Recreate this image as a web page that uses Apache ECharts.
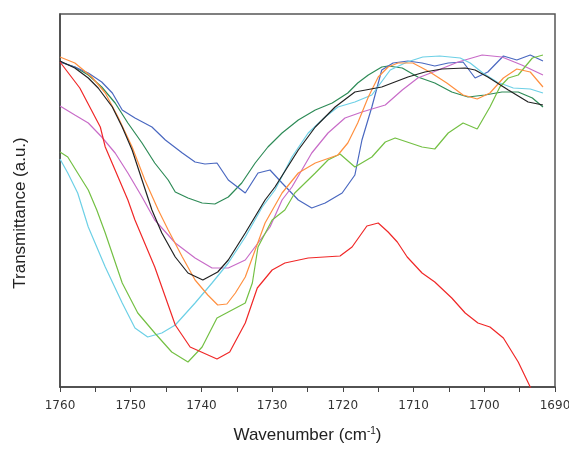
<!DOCTYPE html>
<html>
<head>
<meta charset="utf-8">
<script src="https://cdn.jsdelivr.net/npm/echarts@6/dist/echarts.min.js"></script>
<style>
  html, body { margin: 0; padding: 0; background: #fff; }
  #chart { width: 569px; height: 450px; }
</style>
</head>
<body>
<div id="chart"></div>
<script>
// IR carbonyl region spectra, transmittance in arbitrary units vs wavenumber (cm-1)
const xTicks = [1760, 1750, 1740, 1730, 1720, 1710, 1700, 1690];

const redSpec = [[1760,325],[1757.2,299],[1754.3,260],[1753.6,240],[1750.4,187],[1749.4,167],[1746.6,120],[1743.7,62],[1741.6,40],[1737.8,28],[1736,35],[1733.8,64],[1732.1,99],[1730,117],[1728.2,124],[1724.9,129],[1720.4,131],[1718.7,140],[1716.6,161],[1715,164],[1713.6,155],[1712.3,145],[1710.9,130],[1708.8,114],[1707,105],[1704.6,89],[1702.7,74],[1700.9,64],[1699.2,60],[1697.3,49],[1695.2,25],[1693.5,0],[1692,-25]];

const blackSpec = [[1760,326],[1757.9,319],[1756,309],[1754.6,299],[1752.6,280],[1751.2,260],[1749.8,237],[1748.4,207],[1747,177],[1745.6,154],[1743.7,130],[1741.9,114],[1739.8,107],[1737.7,115],[1736.2,127],[1733.8,154],[1731,187],[1729.6,200],[1726.3,237],[1723.9,260],[1721.1,280],[1718.3,295],[1714.5,300],[1710.8,310],[1708.4,315],[1706,318],[1702.7,319],[1701.3,317],[1699.5,310],[1696.6,297],[1693.8,285],[1691.7,282]];

const orangeSpec = [[1760,330],[1757.9,324],[1755.5,310],[1753.6,294],[1751.8,270],[1749.8,240],[1748,207],[1746.1,177],[1744.7,157],[1742.7,130],[1740.9,107],[1739.1,92],[1737.7,82],[1736.4,83],[1735.2,94],[1733.8,110],[1732.4,137],[1731,164],[1728.6,194],[1726.3,214],[1723.9,224],[1720.7,232],[1719.3,244],[1717.9,264],[1716.4,290],[1715,310],[1713.6,320],[1712.2,324],[1710.1,324],[1707.7,315],[1705.3,304],[1703,292],[1701,288],[1699.2,294],[1697.3,309],[1695.4,318],[1693.5,315],[1691.7,300]];

const lightGreenSpec = [[1760,235],[1758.9,230],[1757.5,214],[1756,197],[1754.8,177],[1753.6,154],[1751.2,104],[1749,74],[1746.6,54],[1744.2,35],[1741.9,25],[1739.9,40],[1737.8,69],[1736.2,75],[1733.8,84],[1732.8,104],[1732,140],[1730,167],[1728.2,177],[1726.8,194],[1723.9,214],[1722.1,227],[1720.4,233],[1718.3,220],[1715.9,230],[1714,245],[1712.6,249],[1708.8,240],[1707,238],[1705.1,254],[1703,264],[1701,258],[1699.2,280],[1697.8,300],[1696.6,309],[1695.2,312],[1693.2,329],[1691.7,332]];

const cyanSpec = [[1760,228],[1758.9,214],[1757.5,194],[1756,160],[1753.6,120],[1751.2,84],[1749.4,59],[1747.6,50],[1745.6,54],[1743.7,62],[1740.9,84],[1738.5,104],[1736.2,124],[1733.8,150],[1731.4,180],[1729.6,197],[1727.2,230],[1724.9,254],[1722.5,270],[1720.7,280],[1718.3,285],[1715.9,292],[1713.3,317],[1710.9,325],[1708.7,330],[1706.3,331],[1703.4,329],[1702,324],[1700.2,314],[1698.2,305],[1695.9,299],[1693.5,298],[1691.7,294]];

const magentaSpec = [[1760,281],[1757.9,272],[1756,264],[1754.1,250],[1752.2,234],[1750.4,214],[1748.4,190],[1746.6,167],[1743.7,144],[1740.9,129],[1738.5,119],[1736.2,119],[1733.8,127],[1732,144],[1730.3,160],[1728.6,187],[1727.2,200],[1724.4,234],[1722.1,254],[1719.7,269],[1717.3,275],[1714,282],[1711.6,297],[1709.4,309],[1706.5,317],[1703.7,325],[1700.3,332],[1697.5,330],[1694.7,322],[1691.7,312]];

const blueSpec = [[1760,325],[1757.9,320],[1756,314],[1754.1,305],[1752.6,294],[1751.2,277],[1749.4,269],[1747,260],[1745.1,247],[1742.7,234],[1740.9,225],[1739.5,223],[1737.8,224],[1736.2,207],[1733.8,194],[1732,214],[1730.3,217],[1728.6,204],[1726.3,187],[1724.4,179],[1722.5,184],[1720.1,194],[1718.3,212],[1717.3,247],[1715.9,280],[1714.5,317],[1712.9,324],[1710.8,326],[1708.8,324],[1707,321],[1705.1,324],[1703,325],[1701.3,309],[1699.5,315],[1697.3,331],[1695.4,327],[1693.5,332],[1691.7,326]];

const darkGreenSpec = [[1760,325],[1757.9,320],[1756,312],[1754.1,300],[1752.2,284],[1750.4,264],[1748.4,244],[1746.6,224],[1744.7,207],[1743.7,195],[1741.9,189],[1739.9,184],[1738.1,183],[1736.2,190],[1734.3,204],[1732.4,224],[1730.6,240],[1728.6,254],[1726.3,267],[1723.9,277],[1721.5,284],[1719.3,294],[1717.9,304],[1716.4,312],[1714.5,320],[1713.6,321],[1711.6,319],[1709.4,310],[1707,304],[1704.6,295],[1702.3,290],[1699.9,292],[1697.5,295],[1695.2,295],[1693.2,289],[1691.7,280]];

const spectra = [
  { name: 'dark green', data: darkGreenSpec, color: '#2e8b57' },
  { name: 'blue', data: blueSpec, color: '#4a68c0' },
  { name: 'magenta', data: magentaSpec, color: '#c86cc8' },
  { name: 'cyan', data: cyanSpec, color: '#6dd0e6' },
  { name: 'light green', data: lightGreenSpec, color: '#74c044' },
  { name: 'orange', data: orangeSpec, color: '#ff9040' },
  { name: 'black', data: blackSpec, color: '#222222' },
  { name: 'red', data: redSpec, color: '#f02828' }
];

const chart = echarts.init(document.getElementById('chart'), null, { renderer: 'canvas' });

chart.setOption({
  animation: false,
  backgroundColor: '#ffffff',
  grid: {
    left: 60, right: 14, top: 14, bottom: 63,
    outerBoundsMode: 'none',
    containLabel: false,
    show: true, borderColor: '#555', borderWidth: 1.5, backgroundColor: 'transparent'
  },
  graphic: [{
    type: 'text',
    x: 20, y: 213,
    rotation: Math.PI / 2,
    style: {
      text: 'Transmittance (a.u.)',
      align: 'center', verticalAlign: 'middle',
      fontSize: 17, fontFamily: 'Liberation Sans', fill: '#222'
    }
  }],
  xAxis: {
    type: 'value',
    min: 1690, max: 1760, interval: 5,
    inverse: true,
    axisLine: { show: true, lineStyle: { color: '#444', width: 1.5 } },
    axisTick: { show: true, inside: false, length: 5, lineStyle: { color: '#444', width: 1 } },
    splitLine: { show: false },
    axisLabel: {
      color: '#333', fontSize: 12, fontFamily: 'DejaVu Sans', margin: 13,
      formatter: v => (xTicks.indexOf(v) >= 0 ? String(v) : '')
    },
    name: 'Wavenumber (cm{sup|-1})',
    nameLocation: 'middle',
    nameGap: 39,
    nameTextStyle: {
      color: '#222', fontSize: 17, fontFamily: 'Liberation Sans',
      rich: { sup: { fontSize: 10, fontFamily: 'Liberation Sans', color: '#222', verticalAlign: 'top', padding: [0, 0, 8, 0] } }
    }
  },
  yAxis: {
    type: 'value',
    min: 0, max: 373,
    axisLine: { show: true, lineStyle: { color: '#444', width: 1.5 } },
    axisTick: { show: false },
    axisLabel: { show: false },
    splitLine: { show: false }
  },
  series: spectra.map(s => ({
    type: 'line',
    name: s.name,
    data: s.data,
    showSymbol: false,
    symbol: 'none',
    clip: true,
    lineStyle: { color: s.color, width: 1.2 },
    emphasis: { disabled: true }
  }))
});
</script>
</body>
</html>
